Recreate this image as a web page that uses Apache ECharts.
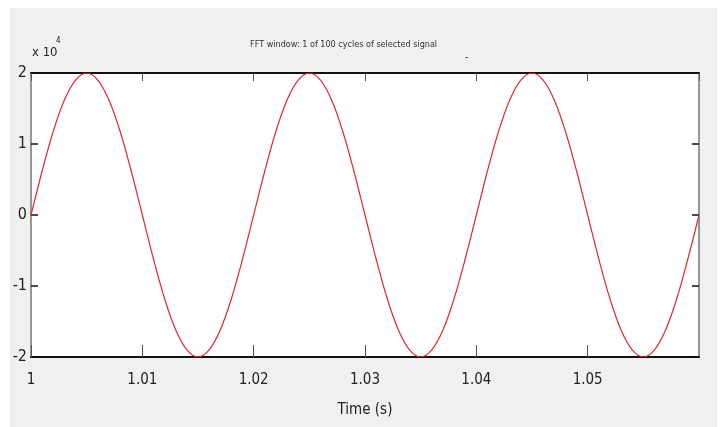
<!DOCTYPE html>
<html>
<head>
<meta charset="utf-8">
<script src="https://cdn.jsdelivr.net/npm/echarts@6/dist/echarts.min.js"></script>
<style>
html,body{margin:0;padding:0;background:#ffffff;}
#c{width:727px;height:427px;}
</style>
</head>
<body>
<div id="c"></div>
<script>
// Time samples (s)
var times = [
1.000,1.001,1.002,1.003,1.004,1.005,1.006,1.007,1.008,1.009,
1.010,1.011,1.012,1.013,1.014,1.015,1.016,1.017,1.018,1.019,
1.020,1.021,1.022,1.023,1.024,1.025,1.026,1.027,1.028,1.029,
1.030,1.031,1.032,1.033,1.034,1.035,1.036,1.037,1.038,1.039,
1.040,1.041,1.042,1.043,1.044,1.045,1.046,1.047,1.048,1.049,
1.050,1.051,1.052,1.053,1.054,1.055,1.056,1.057,1.058,1.059,
1.060
];
// Signal values in units of 10^4
var signal = [
0,0.62,1.18,1.62,1.90,2.00,1.90,1.62,1.18,0.62,
0,-0.62,-1.18,-1.62,-1.90,-2.00,-1.90,-1.62,-1.18,-0.62,
0,0.62,1.18,1.62,1.90,2.00,1.90,1.62,1.18,0.62,
0,-0.62,-1.18,-1.62,-1.90,-2.00,-1.90,-1.62,-1.18,-0.62,
0,0.62,1.18,1.62,1.90,2.00,1.90,1.62,1.18,0.62,
0,-0.62,-1.18,-1.62,-1.90,-2.00,-1.90,-1.62,-1.18,-0.62,
0
];
var yTicks = [-2, -1, 0, 1, 2];
var titleText = 'FFT window: 1 of 100 cycles of selected signal';
var xName = 'Time (s)';
var yExponent = 'x 10';
var yExponentPower = '4';

var FONT = '"Liberation Sans Narrow","DejaVu Sans Condensed","Liberation Sans",sans-serif';
var pts = times.map(function(t, i){ return [t, signal[i]]; });

var chart = echarts.init(document.getElementById('c'), null, {renderer:'canvas'});
chart.setOption({
  backgroundColor: '#ffffff',
  animation: false,
  graphic: [
    {type:'rect', z:-10, silent:true, shape:{x:10,y:8,width:707,height:419}, style:{fill:'#f0f0f0'}},
    {type:'text', left:250, top:40, style:{text:titleText, font:'9px '+FONT, fill:'#333'}},
    {type:'text', left:465, top:52, style:{text:'-', font:'10px '+FONT, fill:'#333'}},
    {type:'text', left:32, top:46, style:{text:yExponent, font:'13px '+FONT, fill:'#222'}},
    {type:'text', left:56, top:37, style:{text:yExponentPower, font:'8px '+FONT, fill:'#222'}}
  ],
  grid: {left:31, right:28, top:73, bottom:70, show:true, backgroundColor:'#ffffff', borderWidth:0, containLabel:false},
  xAxis: [
    {type:'value', position:'bottom', min:1, max:1.06, interval:0.01,
     axisLine:{show:true, onZero:false, lineStyle:{color:'#111', width:2}},
     axisTick:{show:true, inside:true, length:12, lineStyle:{color:'#555', width:1}},
     splitLine:{show:false},
     axisLabel:{show:true, margin:16, showMaxLabel:false, color:'#222', fontFamily:FONT, fontSize:15,
       formatter:function(v){ var s=(Math.round(v*100)/100).toFixed(2); return s==='1.00'?'1':s; }},
     name:xName, nameLocation:'middle', nameGap:46,
     nameTextStyle:{color:'#222', fontFamily:FONT, fontSize:15}},
    {type:'value', position:'top', min:1, max:1.06, interval:0.01,
     axisLine:{show:true, onZero:false, lineStyle:{color:'#111', width:2}},
     axisTick:{show:true, inside:true, length:8, lineStyle:{color:'#555', width:1}},
     axisLabel:{show:false}, splitLine:{show:false}}
  ],
  yAxis: [
    {type:'value', position:'left', min:yTicks[0], max:yTicks[yTicks.length-1], interval:1,
     axisLine:{show:true, onZero:false, lineStyle:{color:'#777', width:1.5}},
     axisTick:{show:true, inside:true, length:7, lineStyle:{color:'#111', width:1.5}},
     splitLine:{show:false},
     axisLabel:{show:true, margin:4, color:'#222', fontFamily:FONT, fontSize:16}},
    {type:'value', position:'right', min:yTicks[0], max:yTicks[yTicks.length-1], interval:1,
     axisLine:{show:true, onZero:false, lineStyle:{color:'#777', width:1.5}},
     axisTick:{show:true, inside:true, length:7, lineStyle:{color:'#111', width:1.5}},
     axisLabel:{show:false}, splitLine:{show:false}}
  ],
  series: [
    {type:'line', xAxisIndex:0, yAxisIndex:0, data:pts, smooth:0.35, showSymbol:false,
     lineStyle:{color:'#e0282a', width:1.2}, clip:true}
  ]
});
</script>
</body>
</html>
